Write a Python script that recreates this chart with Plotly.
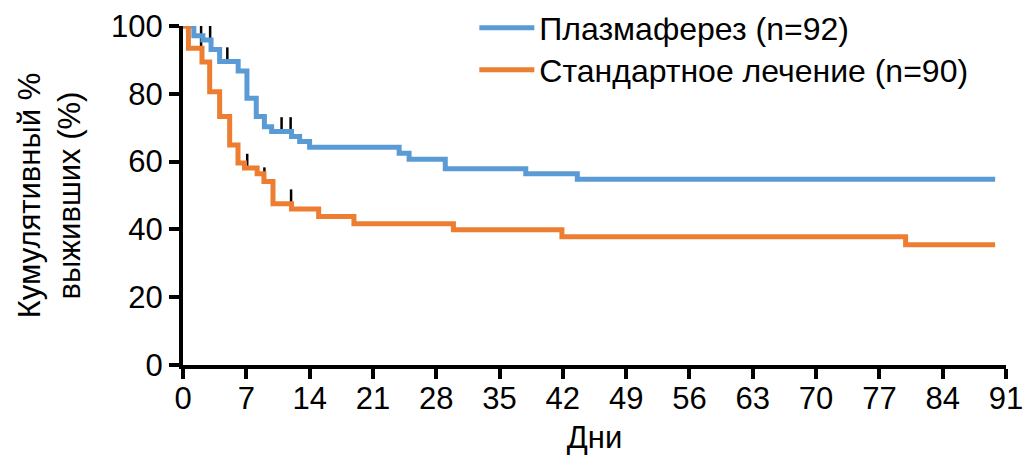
import numpy as np
import plotly.graph_objects as go

# ---- data ----
plasma_name = "Плазмаферез (n=92)"
plasma_t = [0, 1.2, 2.2, 3.1, 4.05, 6.1, 7.07, 8.1, 9.0, 9.8, 12.0, 12.9, 14.0, 23.9, 25.0, 29.0, 37.9, 43.6, 89.8]
plasma_s = [100, 97.1, 95.9, 93.1, 89.5, 86.7, 78.7, 73.3, 70.3, 68.9, 67.4, 65.9, 64.2, 62.5, 60.7, 57.9, 56.4, 54.8, 54.8]
plasma_censor_t = [1.0, 2.0, 3.0, 4.9, 10.9, 11.9]

std_name = "Стандартное лечение (n=90)"
std_t = [0, 0.6, 2.1, 2.95, 4.05, 5.16, 6.08, 6.8, 8.2, 8.95, 9.95, 12.0, 15.0, 18.9, 29.9, 41.9, 79.9, 89.8]
std_s = [100, 93.4, 89.4, 80.6, 73.3, 64.9, 59.6, 58.1, 56.4, 54.1, 47.6, 46.0, 43.8, 41.7, 39.9, 37.8, 35.5, 35.5]
std_censor_t = [2.0, 7.1, 9.0, 11.95]

x_ticks = [0, 7, 14, 21, 28, 35, 42, 49, 56, 63, 70, 77, 84, 91]
y_ticks = [0, 20, 40, 60, 80, 100]

BLUE = "#5B9BD5"
ORANGE = "#ED7D31"
FONT = "Liberation Sans, Arial, sans-serif"
CENSOR_LEN = 4.2


def censor_segments(t, s, ct):
    t = np.asarray(t)
    s = np.asarray(s)
    xs, ys = [], []
    for c in ct:
        v = s[np.searchsorted(t, c, side="right") - 1]
        xs += [c, c, None]
        ys += [v, v + CENSOR_LEN, None]
    return xs, ys


fig = go.Figure()

for t, s, ct in [(plasma_t, plasma_s, plasma_censor_t), (std_t, std_s, std_censor_t)]:
    cx, cy = censor_segments(t, s, ct)
    fig.add_trace(go.Scatter(x=cx, y=cy, mode="lines", line=dict(color="black", width=2.5),
                             showlegend=False, hoverinfo="skip", cliponaxis=False))

fig.add_trace(go.Scatter(x=plasma_t, y=plasma_s, mode="lines", name=plasma_name, legend="legend",
                         line=dict(color=BLUE, width=5, shape="hv"), cliponaxis=False))
fig.add_trace(go.Scatter(x=std_t, y=std_s, mode="lines", name=std_name, legend="legend2",
                         line=dict(color=ORANGE, width=5, shape="hv"), cliponaxis=False))

leg_common = dict(xanchor="left", yanchor="middle", bgcolor="rgba(0,0,0,0)",
                  font=dict(size=32), itemwidth=55)

fig.update_layout(
    width=1023, height=457,
    margin=dict(l=183, r=17, t=26, b=92, autoexpand=False),
    paper_bgcolor="white", plot_bgcolor="white",
    font=dict(family=FONT, size=31, color="black"),
    legend=dict(x=0.354, y=0.994, **leg_common),
    legend2=dict(x=0.354, y=0.870, **leg_common),
    xaxis=dict(range=[0, 91], tickvals=x_ticks, showline=True, linewidth=4, linecolor="black",
               ticks="outside", ticklen=10, tickwidth=4, tickcolor="black",
               showgrid=False, zeroline=False, automargin=False, ticklabelstandoff=-7,
               ticklabeloverflow="allow",
               title=dict(text="Дни", standoff=12, font=dict(size=31))),
    yaxis=dict(range=[0, 100], tickvals=y_ticks, showline=True, linewidth=4, linecolor="black",
               ticks="outside", ticklen=10, tickwidth=4, tickcolor="black",
               showgrid=False, zeroline=False, ticklabelstandoff=0, automargin=False,
               title=dict(text="Кумулятивный %<br>выживших (%)", standoff=22, font=dict(size=31))),
)

fig.write_html("out.html", config={"displayModeBar": False},
               post_script="document.body.style.margin='0px';")
